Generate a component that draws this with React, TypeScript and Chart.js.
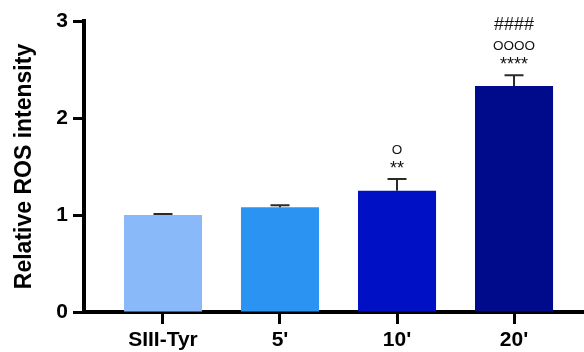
import React, { useEffect, useRef } from "react";
import { Chart, registerables } from "chart.js";

Chart.register(...registerables);

const categories = ["SIII-Tyr", "5'", "10'", "20'"];
const values = [1.0, 1.08, 1.25, 2.33];
const errors = [0.01, 0.02, 0.12, 0.11];
const annotations: string[][] = [[], [], ["**", "O"], ["****", "OOOO", "####"]];
const barColors = ["#8ab9f9", "#2b93f2", "#0010c4", "#000b8c"];
const yTicks = [0, 1, 2, 3];

const FONT = "'Liberation Sans', Arial, Helvetica, sans-serif";

const errorPlugin = {
  id: "errAnno",
  afterDatasetsDraw(chart: any) {
    const ctx = chart.ctx;
    const meta = chart.getDatasetMeta(0);
    const ys = chart.scales.y;
    meta.data.forEach((el: any, i: number) => {
      const x = el.x;
      const top = ys.getPixelForValue(values[i] + errors[i]);
      ctx.save();
      ctx.strokeStyle = "#2a2a2a";
      ctx.lineWidth = 2;
      ctx.beginPath();
      ctx.moveTo(x, el.y);
      ctx.lineTo(x, top);
      ctx.moveTo(x - 9.5, top);
      ctx.lineTo(x + 9.5, top);
      ctx.stroke();
      ctx.fillStyle = "#111";
      ctx.textAlign = "center";
      ctx.textBaseline = "alphabetic";
      annotations[i].forEach((txt, j) => {
        const size = txt.includes("O") ? 13.5 : 18;
        ctx.font = `${size}px ${FONT}`;
        ctx.fillText(txt, x, top - 5 - j * 20);
      });
      ctx.restore();
    });
  },
};

export default function App() {
  const ref = useRef<HTMLCanvasElement | null>(null);
  useEffect(() => {
    if (!ref.current) return;
    const chart = new Chart(ref.current, {
      type: "bar",
      data: {
        datasets: [
          {
            data: values.map((v, i) => ({ x: i, y: v })),
            backgroundColor: barColors,
            barPercentage: 0.667,
            categoryPercentage: 1,
          },
        ],
      },
      options: {
        animation: false,
        responsive: false,
        layout: { padding: { top: 21, right: 0, left: 0, bottom: 0 } },
        plugins: { legend: { display: false }, tooltip: { enabled: false } },
        scales: {
          x: {
            type: "linear",
            offset: false,
            min: -0.675,
            max: 3.598,
            afterBuildTicks: (s: any) => {
              s.ticks = categories.map((_, i) => ({ value: i }));
            },
            afterFit: (s: any) => {
              s.height = 40;
            },
            ticks: {
              callback: (v: any) => categories[v] ?? "",
              font: { family: FONT, size: 21, weight: "bold" },
              color: "#000",
              padding: 4,
              maxRotation: 0,
              autoSkip: false,
            },
            grid: { offset: false, drawOnChartArea: false, tickLength: 12, tickWidth: 3, tickColor: "#000" },
            border: { width: 4, color: "#000" },
          },
          y: {
            min: 0,
            max: 3,
            afterBuildTicks: (s: any) => {
              s.ticks = yTicks.map((v) => ({ value: v }));
            },
            afterFit: (s: any) => {
              s.width = 84;
            },
            ticks: {
              font: { family: FONT, size: 21, weight: "bold" },
              color: "#000",
              padding: 5,
            },
            grid: { drawOnChartArea: false, tickLength: 11, tickWidth: 3, tickColor: "#000" },
            border: { width: 4, color: "#000" },
            title: {
              display: true,
              text: "Relative ROS intensity",
              font: { family: FONT, size: 23, weight: "bold" },
              color: "#000",
              padding: { top: 11, bottom: 0 },
            },
          },
        },
      } as any,
      plugins: [errorPlugin],
    });
    return () => chart.destroy();
  }, []);
  return (
    <div style={{ position: "fixed", left: 0, top: 0, width: 584, height: 352, background: "#fff" }}>
      <canvas ref={ref} width={584} height={352} />
    </div>
  );
}
